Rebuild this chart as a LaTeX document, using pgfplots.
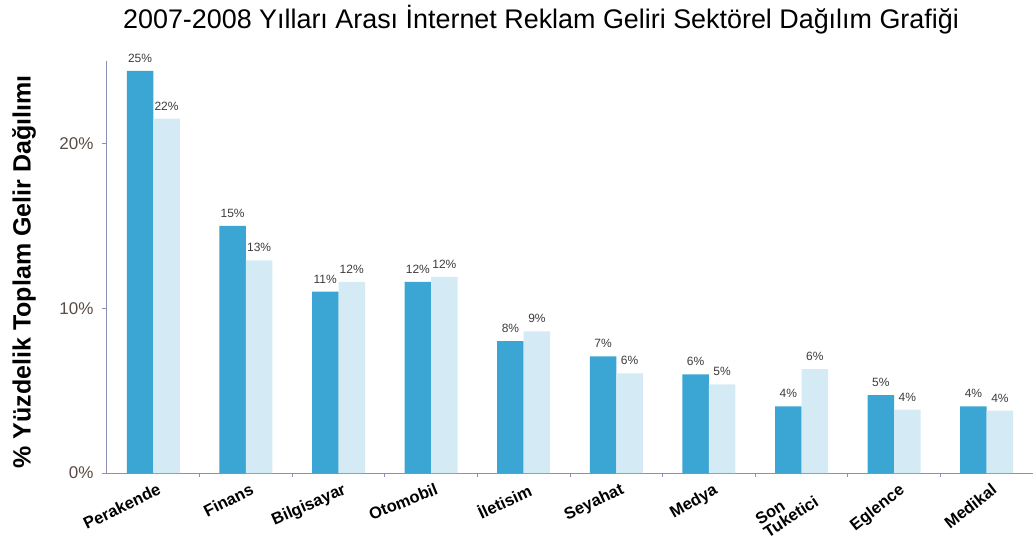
\documentclass[border=0pt]{standalone}
\usepackage{fontspec}
\setmainfont{Liberation Sans}
\usepackage{pgfplots}
\pgfplotsset{compat=1.18}
\usepackage{pgfplotstable}
\definecolor{darkbar}{RGB}{59,166,212}
\definecolor{lightbar}{RGB}{212,235,245}
\definecolor{axisline}{RGB}{140,145,180}
\definecolor{ticktext}{RGB}{90,76,66}
\definecolor{valtext}{RGB}{60,60,60}

\pgfplotstableread{
x y lab
0 24.4 25
1 15.0 15
2 11.0 11
3 11.6 12
4 8.0 8
5 7.07 7
6 5.98 6
7 4.04 4
8 4.73 5
9 4.04 4
}\darkdata

\pgfplotstableread{
x y lab
0 21.5 22
1 12.9 13
2 11.6 12
3 11.9 12
4 8.6 9
5 6.04 6
6 5.38 5
7 6.3 6
8 3.84 4
9 3.78 4
}\lightdata

\begin{document}
\begin{tikzpicture}
\begin{axis}[
  at={(0,0)}, anchor=south west,
  scale only axis,
  width=926pt, height=412pt,
  xmin=-0.5, xmax=9.5,
  ymin=0, ymax=25,
  ybar=0pt,
  bar width=26.5pt,
  axis lines*=left,
  axis line style={draw=axisline, line width=1pt},
  xtick={0,...,9},
  xticklabels={Perakende,Finans,Bilgisayar,Otomobil,İletisim,Seyahat,Medya,{\shortstack[l]{Son\\Tuketici}},Eglence,Medikal},
  minor xtick={0.5,1.5,...,8.5},
  major x tick style={draw=none},
  minor x tick style={draw=axisline, line width=0.8pt},
  minor tick length=4pt,
  ytick={0,10,20},
  yticklabels={0\%,10\%,20\%},
  y tick style={draw=axisline, line width=0.8pt},
  major tick length=5pt,
  tick align=outside,
  yticklabel style={font=\fontsize{17}{20}\selectfont, text=ticktext, xshift=-5pt},
  xticklabel style={font=\bfseries\fontsize{16.5}{17}\selectfont, xshift=4pt, yshift=-3pt, rotate={{26,27,24,22,25,25,30,33,38,38}[\ticknum]}, anchor=north east, text=black, inner sep=1pt},
  nodes near coords={\pgfplotspointmeta\%},
  point meta=explicit symbolic,
  every node near coord/.append style={font=\fontsize{12}{14}\selectfont, text=valtext, anchor=south, yshift=5pt},
  ylabel={\% Yüzdelik Toplam Gelir Dağılımı},
  every axis y label/.style={at={(axis description cs:-0.0896,0.488)}, rotate=90, anchor=center, font=\bfseries\fontsize{25}{28}\selectfont},
  title={2007-2008 Yılları Arası İnternet Reklam Geliri Sektörel Dağılım Grafiği},
  every axis title/.style={at={(axis description cs:0.4687,1.080)}, anchor=base, font=\fontsize{26.9}{30}\selectfont},
  clip=false,
]
\addplot[fill=darkbar, draw=none] table[x=x, y=y, meta=lab] {\darkdata};
\addplot[fill=lightbar, draw=none] table[x=x, y=y, meta=lab] {\lightdata};
\end{axis}
\pgfresetboundingbox
\path[use as bounding box] (-107pt,-73pt) rectangle (926pt,473pt);
\end{tikzpicture}
\end{document}
